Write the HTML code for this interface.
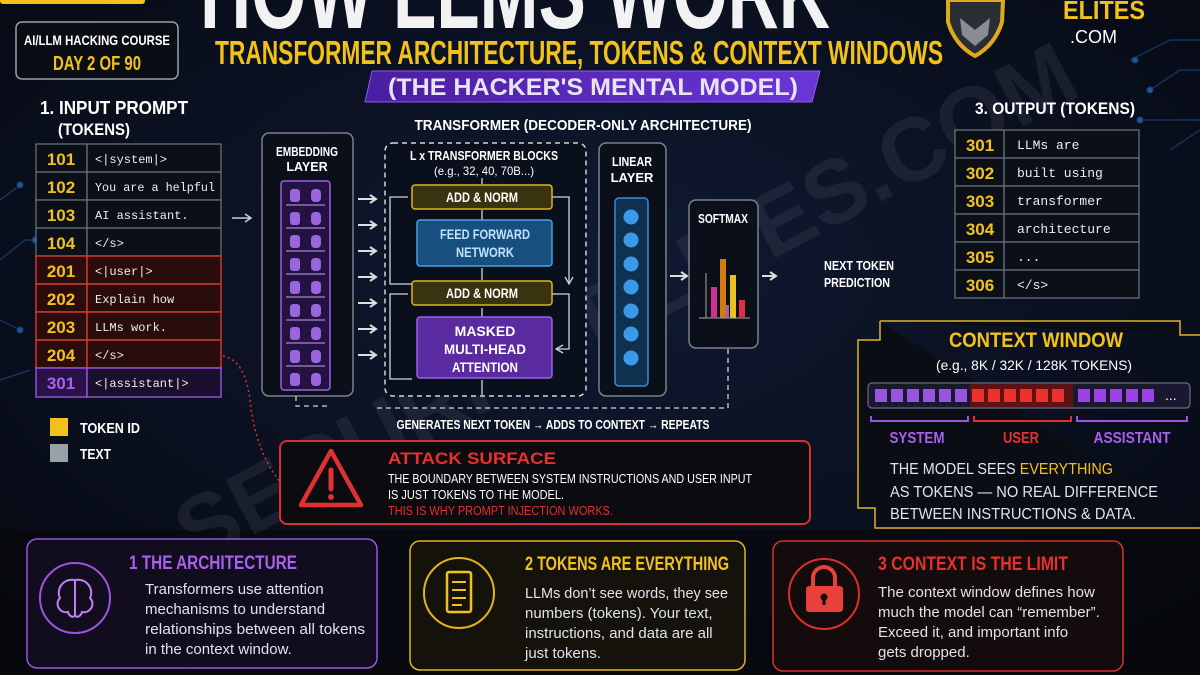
<!DOCTYPE html>
<html><head><meta charset="utf-8"><style>
html,body{margin:0;padding:0;background:#070b16;}
svg{display:block}
text{font-family:"Liberation Sans Narrow","Liberation Sans",sans-serif;}
.m{font-family:"Liberation Mono",monospace;}
</style></head><body>
<svg width="1200" height="675" viewBox="0 0 1200 675" xmlns="http://www.w3.org/2000/svg">
<defs>
<radialGradient id="bg" cx="0.5" cy="0.4" r="0.8"><stop offset="0" stop-color="#101a33"/><stop offset="1" stop-color="#05070e"/></radialGradient>
<linearGradient id="pb" x1="0" x2="1"><stop offset="0" stop-color="#4a1ea0"/><stop offset="1" stop-color="#6a36d8"/></linearGradient>
</defs>
<rect width="1200" height="675" fill="url(#bg)"/>
<rect y="530" width="1200" height="145" fill="#07080d" opacity="0.7"/>
<g stroke="#1c4d8a" stroke-width="1.2" fill="#2a7ad0" opacity="0.7">
<path d="M1130 60 L1170 40 L1200 40 M1150 90 L1180 70 L1200 70 M1140 120 L1200 120 M1170 150 L1200 130" fill="none"/>
<circle cx="1135" cy="60" r="3"/><circle cx="1150" cy="90" r="3"/><circle cx="1140" cy="120" r="3"/>
<path d="M0 200 L20 185 M0 260 L25 240 L35 240 M0 320 L20 330 M0 380 L30 370" fill="none"/>
<circle cx="20" cy="185" r="3"/><circle cx="35" cy="240" r="3"/><circle cx="20" cy="330" r="3"/>
</g>
<rect x="0" y="-10" width="145" height="14" rx="3" fill="#f2c21b"/>
<rect x="16" y="22" width="162" height="57" rx="6" fill="#0a0d14" stroke="#9aa0a8" stroke-width="1.5"/>
<text x="97" y="45" fill="#fff" font-size="14" font-weight="bold" text-anchor="middle" textLength="146" lengthAdjust="spacingAndGlyphs">AI/LLM HACKING COURSE</text>
<text x="97" y="70" fill="#f2c21b" font-size="20" font-weight="bold" text-anchor="middle" textLength="88" lengthAdjust="spacingAndGlyphs">DAY 2 OF 90</text>
<text x="515" y="28" fill="#f2f2f2" font-size="104" font-weight="bold" text-anchor="middle" textLength="630" lengthAdjust="spacingAndGlyphs">HOW LLMS WORK</text>
<text x="579" y="64" fill="#f2c21b" font-size="33" font-weight="bold" text-anchor="middle" textLength="728" lengthAdjust="spacingAndGlyphs">TRANSFORMER ARCHITECTURE, TOKENS &amp; CONTEXT WINDOWS</text>
<path d="M372 71 L820 71 L812 102 L365 102 Z" fill="url(#pb)" stroke="#8a5af0"/>
<text x="593" y="95" fill="#e8e4f5" font-size="24" font-weight="bold" text-anchor="middle" textLength="410" lengthAdjust="spacingAndGlyphs">(THE HACKER'S MENTAL MODEL)</text>
<path d="M948 0 L1003 0 L1002 22 Q995 45 975 56 Q955 45 948 22 Z" fill="#2a2d33" stroke="#e0a81c" stroke-width="4"/>
<path d="M960 18 L975 30 L990 18 L988 35 L975 46 L962 35 Z" fill="#888c93"/>
<text x="1063" y="19" fill="#f2c21b" font-size="26" font-weight="bold" textLength="82" lengthAdjust="spacingAndGlyphs">ELITES</text>
<text x="1070" y="43" fill="#fff" font-size="18">.COM</text>
<text x="640" y="330" fill="#8a8f99" opacity="0.12" font-size="90" font-weight="bold" text-anchor="middle" transform="rotate(-28 640 330)">SECURITYELITES.COM</text>
<text x="40" y="114" fill="#fff" font-size="18" font-weight="bold" textLength="148" lengthAdjust="spacingAndGlyphs">1. INPUT PROMPT</text>
<text x="58" y="135" fill="#fff" font-size="17" font-weight="bold" textLength="72" lengthAdjust="spacingAndGlyphs">(TOKENS)</text>
<g stroke="#6d7480" stroke-width="1.2" fill="#0b0f18">
<rect x="36" y="144" width="51" height="28"/><rect x="87" y="144" width="134" height="28"/>
<rect x="36" y="172" width="51" height="28"/><rect x="87" y="172" width="134" height="28"/>
<rect x="36" y="200" width="51" height="28"/><rect x="87" y="200" width="134" height="28"/>
<rect x="36" y="228" width="51" height="28"/><rect x="87" y="228" width="134" height="28"/>
</g>
<g stroke="#d83a33" stroke-width="1.4" fill="#2a0c0c">
<rect x="36" y="256" width="51" height="28"/><rect x="87" y="256" width="134" height="28"/>
<rect x="36" y="284" width="51" height="28"/><rect x="87" y="284" width="134" height="28"/>
<rect x="36" y="312" width="51" height="28"/><rect x="87" y="312" width="134" height="28"/>
<rect x="36" y="340" width="51" height="28"/><rect x="87" y="340" width="134" height="28"/>
</g>
<rect x="36" y="368" width="51" height="29" fill="#2a1248" stroke="#9a55e0" stroke-width="1.4"/><rect x="87" y="368" width="134" height="29" fill="#1a0f2c" stroke="#9a55e0" stroke-width="1.4"/>
<g fill="#f2c21b" font-size="17" font-weight="bold" text-anchor="middle">
<text x="61" y="165">101</text><text x="61" y="193">102</text><text x="61" y="221">103</text><text x="61" y="249">104</text>
<text x="61" y="277">201</text><text x="61" y="305">202</text><text x="61" y="333">203</text><text x="61" y="361">204</text>
<text x="61" y="389" fill="#a860f0">301</text></g>
<g fill="#eee" font-size="12">
<text class="m" x="95" y="163">&lt;|system|&gt;</text><text class="m" x="95" y="191" textLength="120" lengthAdjust="spacingAndGlyphs">You are a helpful</text>
<text class="m" x="95" y="219">AI assistant.</text><text class="m" x="95" y="247">&lt;/s&gt;</text>
<text class="m" x="95" y="275">&lt;|user|&gt;</text><text class="m" x="95" y="303">Explain how</text>
<text class="m" x="95" y="331">LLMs work.</text><text class="m" x="95" y="359">&lt;/s&gt;</text>
<text class="m" x="95" y="387">&lt;|assistant|&gt;</text></g>
<path d="M232 218 L250 218 M245 214 L251 218 L245 222" stroke="#ccc" stroke-width="1.5" fill="none"/>
<rect x="50" y="418" width="18" height="18" fill="#f2c21b"/><text x="80" y="433" fill="#fff" font-size="15" font-weight="bold" textLength="60" lengthAdjust="spacingAndGlyphs">TOKEN ID</text>
<rect x="50" y="444" width="18" height="18" fill="#9aa0a8"/><text x="80" y="459" fill="#fff" font-size="15" font-weight="bold" textLength="31" lengthAdjust="spacingAndGlyphs">TEXT</text>
<path d="M223 356 Q245 360 250 400 Q255 450 280 482" stroke="#e03030" stroke-width="1.5" stroke-dasharray="2 3" fill="none"/>
<text x="583" y="130" fill="#fff" font-size="15" font-weight="bold" text-anchor="middle" textLength="337" lengthAdjust="spacingAndGlyphs">TRANSFORMER (DECODER-ONLY ARCHITECTURE)</text>
<rect x="262" y="133" width="91" height="263" rx="7" fill="#0b0f1a" stroke="#7a808a" stroke-width="1.5"/>
<text x="307" y="156" fill="#fff" font-size="12.5" font-weight="bold" text-anchor="middle" textLength="62" lengthAdjust="spacingAndGlyphs">EMBEDDING</text>
<text x="307" y="171" fill="#fff" font-size="12.5" font-weight="bold" text-anchor="middle">LAYER</text>
<rect x="281" y="181" width="49" height="209" rx="3" fill="#241342" stroke="#a060e0" stroke-width="1.5"/>
<g fill="#9a66dd">
<rect x="290" y="189" width="10" height="13" rx="3"/><rect x="311" y="189" width="10" height="13" rx="4"/>
<rect x="290" y="212" width="10" height="13" rx="3"/><rect x="311" y="212" width="10" height="13" rx="4"/>
<rect x="290" y="235" width="10" height="13" rx="3"/><rect x="311" y="235" width="10" height="13" rx="4"/>
<rect x="290" y="258" width="10" height="13" rx="3"/><rect x="311" y="258" width="10" height="13" rx="4"/>
<rect x="290" y="281" width="10" height="13" rx="3"/><rect x="311" y="281" width="10" height="13" rx="4"/>
<rect x="290" y="304" width="10" height="13" rx="3"/><rect x="311" y="304" width="10" height="13" rx="4"/>
<rect x="290" y="327" width="10" height="13" rx="3"/><rect x="311" y="327" width="10" height="13" rx="4"/>
<rect x="290" y="350" width="10" height="13" rx="3"/><rect x="311" y="350" width="10" height="13" rx="4"/>
<rect x="290" y="373" width="10" height="13" rx="3"/><rect x="311" y="373" width="10" height="13" rx="4"/>
</g>
<g stroke="#c9a0f0" stroke-width="1"><path d="M286 205 H325 M286 228 H325 M286 251 H325 M286 274 H325 M286 297 H325 M286 320 H325 M286 343 H325 M286 366 H325"/></g>
<g stroke="#ddd" stroke-width="2" fill="none">
<path d="M358 199 H375 M370 195 L376 199 L370 203"/><path d="M358 225 H375 M370 221 L376 225 L370 229"/>
<path d="M358 251 H375 M370 247 L376 251 L370 255"/><path d="M358 277 H375 M370 273 L376 277 L370 281"/>
<path d="M358 303 H375 M370 299 L376 303 L370 307"/><path d="M358 329 H375 M370 325 L376 329 L370 333"/>
<path d="M358 355 H375 M370 351 L376 355 L370 359"/>
</g>
<rect x="385" y="143" width="201" height="253" rx="8" fill="#0a0f1c" stroke="#cfd3da" stroke-width="1.5" stroke-dasharray="5 4"/>
<text x="484" y="160" fill="#fff" font-size="13" font-weight="bold" text-anchor="middle" textLength="148" lengthAdjust="spacingAndGlyphs">L x TRANSFORMER BLOCKS</text>
<text x="484" y="175" fill="#fff" font-size="12" text-anchor="middle" textLength="100" lengthAdjust="spacingAndGlyphs">(e.g., 32, 40, 70B...)</text>
<g stroke="#cfd3da" stroke-width="1.3" fill="none">
<path d="M412 284 H390 V197 H408"/><path d="M552 197 H569 V283 M565 277 L569 284 L573 277"/>
<path d="M412 379 H390 V294 H408"/><path d="M552 294 H569 V349 H557 M563 345 L556 349 L563 353"/>
<path d="M482 395 V380 M482 317 V308 M482 280 V268 M482 220 V210 M482 184 V178"/>
</g>
<rect x="412" y="185" width="140" height="24" rx="3" fill="#3a3310" stroke="#e0b420" stroke-width="1.5"/>
<text x="482" y="202" fill="#fff" font-size="13.5" font-weight="bold" text-anchor="middle" textLength="72" lengthAdjust="spacingAndGlyphs">ADD &amp; NORM</text>
<rect x="417" y="220" width="135" height="46" rx="3" fill="#17507f" stroke="#4aa0e0" stroke-width="1.5"/>
<text x="485" y="239" fill="#bfe3ff" font-size="14" font-weight="bold" text-anchor="middle" textLength="90" lengthAdjust="spacingAndGlyphs">FEED FORWARD</text>
<text x="485" y="257" fill="#bfe3ff" font-size="14" font-weight="bold" text-anchor="middle" textLength="58" lengthAdjust="spacingAndGlyphs">NETWORK</text>
<rect x="412" y="281" width="140" height="24" rx="3" fill="#3a3310" stroke="#e0b420" stroke-width="1.5"/>
<text x="482" y="298" fill="#fff" font-size="13.5" font-weight="bold" text-anchor="middle" textLength="72" lengthAdjust="spacingAndGlyphs">ADD &amp; NORM</text>
<rect x="417" y="317" width="135" height="61" rx="3" fill="#5a2aa0" stroke="#9a60e8" stroke-width="1.5"/>
<text x="485" y="336" fill="#fff" font-size="14" font-weight="bold" text-anchor="middle">MASKED</text>
<text x="485" y="354" fill="#fff" font-size="14" font-weight="bold" text-anchor="middle" textLength="82" lengthAdjust="spacingAndGlyphs">MULTI-HEAD</text>
<text x="485" y="372" fill="#fff" font-size="14" font-weight="bold" text-anchor="middle" textLength="66" lengthAdjust="spacingAndGlyphs">ATTENTION</text>
<rect x="599" y="143" width="67" height="253" rx="7" fill="#0b0f1a" stroke="#7a808a" stroke-width="1.5"/>
<text x="632" y="166" fill="#fff" font-size="13" font-weight="bold" text-anchor="middle" textLength="40" lengthAdjust="spacingAndGlyphs">LINEAR</text>
<text x="632" y="182" fill="#fff" font-size="13" font-weight="bold" text-anchor="middle">LAYER</text>
<rect x="615" y="198" width="33" height="188" rx="4" fill="#10304f" stroke="#3a8ad0" stroke-width="1.5"/>
<g fill="#3a9ae8"><circle cx="631" cy="217" r="7.5"/><circle cx="631" cy="240" r="7.5"/><circle cx="631" cy="264" r="7.5"/><circle cx="631" cy="287" r="7.5"/><circle cx="631" cy="311" r="7.5"/><circle cx="631" cy="334" r="7.5"/><circle cx="631" cy="358" r="7.5"/></g>
<path d="M670 276 H686 M681 272 L687 276 L681 280" stroke="#ddd" stroke-width="2" fill="none"/>
<rect x="689" y="200" width="69" height="148" rx="7" fill="#0b0f1a" stroke="#7a808a" stroke-width="1.5"/>
<text x="723" y="223" fill="#fff" font-size="13" font-weight="bold" text-anchor="middle" textLength="50" lengthAdjust="spacingAndGlyphs">SOFTMAX</text>
<path d="M706 273 V318 M699 318 H750" stroke="#aaa" stroke-width="1"/>
<rect x="711" y="287" width="6" height="31" fill="#d03090"/><rect x="720" y="259" width="6" height="59" fill="#d07a10"/>
<rect x="726" y="305" width="3" height="13" fill="#9a60c0"/><rect x="730" y="275" width="6" height="43" fill="#e8c020"/><rect x="739" y="300" width="6" height="18" fill="#e03040"/>
<path d="M762 276 H775 M770 272 L776 276 L770 280" stroke="#ddd" stroke-width="2" fill="none"/>
<text x="824" y="270" fill="#fff" font-size="12.5" font-weight="bold" textLength="70" lengthAdjust="spacingAndGlyphs">NEXT TOKEN</text>
<text x="824" y="287" fill="#fff" font-size="12.5" font-weight="bold" textLength="66" lengthAdjust="spacingAndGlyphs">PREDICTION</text>
<path d="M728 349 V408 H375 M296 396 V406 H330" stroke="#cfd3da" stroke-width="1.3" stroke-dasharray="5 4" fill="none"/>
<text x="553" y="429" fill="#fff" font-size="12.5" font-weight="bold" text-anchor="middle" textLength="313" lengthAdjust="spacingAndGlyphs">GENERATES NEXT TOKEN → ADDS TO CONTEXT → REPEATS</text>
<rect x="280" y="441" width="530" height="83" rx="7" fill="#0b0b10" stroke="#d8302e" stroke-width="2"/>
<path d="M331 451 L361 505 H301 Z" fill="none" stroke="#e03030" stroke-width="4.5" stroke-linejoin="round"/>
<path d="M331 470 V489" stroke="#e03030" stroke-width="5" stroke-linecap="round"/><circle cx="331" cy="497" r="3" fill="#e03030"/>
<text x="388" y="464" fill="#e8302e" font-size="17" font-weight="bold" font-family="Liberation Sans" textLength="168" lengthAdjust="spacingAndGlyphs">ATTACK SURFACE</text>
<text x="388" y="483" fill="#fff" font-size="12.5" textLength="364" lengthAdjust="spacingAndGlyphs">THE BOUNDARY BETWEEN SYSTEM INSTRUCTIONS AND USER INPUT</text>
<text x="388" y="499" fill="#fff" font-size="12.5" textLength="176" lengthAdjust="spacingAndGlyphs">IS JUST TOKENS TO THE MODEL.</text>
<text x="388" y="515" fill="#e03030" font-size="12.5" textLength="225" lengthAdjust="spacingAndGlyphs">THIS IS WHY PROMPT INJECTION WORKS.</text>
<text x="975" y="114" fill="#fff" font-size="17" font-weight="bold" textLength="160" lengthAdjust="spacingAndGlyphs">3. OUTPUT (TOKENS)</text>
<g stroke="#6d7480" stroke-width="1.2" fill="#0b0f18">
<rect x="955" y="130" width="49" height="28"/><rect x="1004" y="130" width="135" height="28"/>
<rect x="955" y="158" width="49" height="28"/><rect x="1004" y="158" width="135" height="28"/>
<rect x="955" y="186" width="49" height="28"/><rect x="1004" y="186" width="135" height="28"/>
<rect x="955" y="214" width="49" height="28"/><rect x="1004" y="214" width="135" height="28"/>
<rect x="955" y="242" width="49" height="28"/><rect x="1004" y="242" width="135" height="28"/>
<rect x="955" y="270" width="49" height="28"/><rect x="1004" y="270" width="135" height="28"/>
</g>
<g fill="#f2c21b" font-size="17" font-weight="bold" text-anchor="middle">
<text x="980" y="151">301</text><text x="980" y="179">302</text><text x="980" y="207">303</text><text x="980" y="235">304</text><text x="980" y="263">305</text><text x="980" y="291">306</text></g>
<g fill="#eee" font-size="13">
<text class="m" x="1017" y="149">LLMs are</text><text class="m" x="1017" y="177">built using</text><text class="m" x="1017" y="205">transformer</text>
<text class="m" x="1017" y="233">architecture</text><text class="m" x="1017" y="261">...</text><text class="m" x="1017" y="289">&lt;/s&gt;</text></g>
<path d="M880 321 H1180 V335 H1200 M880 321 V340 H858 V508 H875 V528 H1200" fill="#0a0d14" stroke="#e0b420" stroke-width="1.5"/>
<text x="1036" y="347" fill="#f2c21b" font-size="21" font-weight="bold" text-anchor="middle" textLength="174" lengthAdjust="spacingAndGlyphs">CONTEXT WINDOW</text>
<text x="1034" y="370" fill="#fff" font-size="13.5" text-anchor="middle" textLength="196" lengthAdjust="spacingAndGlyphs">(e.g., 8K / 32K / 128K TOKENS)</text>
<rect x="868" y="383" width="322" height="25" rx="4" fill="#1a1730" stroke="#6a6a80" stroke-width="1.2"/>
<g fill="#9a55e0"><rect x="875" y="389" width="12" height="13"/><rect x="891" y="389" width="12" height="13"/><rect x="907" y="389" width="12" height="13"/><rect x="923" y="389" width="12" height="13"/><rect x="939" y="389" width="12" height="13"/><rect x="955" y="389" width="12" height="13"/></g>
<rect x="970" y="384" width="103" height="23" fill="#5a1414"/>
<g fill="#f03030"><rect x="972" y="389" width="12" height="13"/><rect x="988" y="389" width="12" height="13"/><rect x="1004" y="389" width="12" height="13"/><rect x="1020" y="389" width="12" height="13"/><rect x="1036" y="389" width="12" height="13"/><rect x="1052" y="389" width="12" height="13"/></g>
<g fill="#a040e8"><rect x="1078" y="389" width="12" height="13"/><rect x="1094" y="389" width="12" height="13"/><rect x="1110" y="389" width="12" height="13"/><rect x="1126" y="389" width="12" height="13"/><rect x="1142" y="389" width="12" height="13"/></g>
<text x="1165" y="400" fill="#fff" font-size="14">...</text>
<path d="M871 416 V421 H968 V416" stroke="#9a55e0" stroke-width="2" fill="none"/>
<path d="M974 416 V421 H1071 V416" stroke="#e03030" stroke-width="2" fill="none"/>
<path d="M1077 416 V421 H1187 V416" stroke="#9a55e0" stroke-width="2" fill="none"/>
<text x="917" y="443" fill="#a860f0" font-size="16" font-weight="bold" text-anchor="middle" textLength="55" lengthAdjust="spacingAndGlyphs">SYSTEM</text>
<text x="1021" y="443" fill="#e8302e" font-size="16" font-weight="bold" text-anchor="middle" textLength="36" lengthAdjust="spacingAndGlyphs">USER</text>
<text x="1132" y="443" fill="#a860f0" font-size="16" font-weight="bold" text-anchor="middle" textLength="77" lengthAdjust="spacingAndGlyphs">ASSISTANT</text>
<g font-size="16" fill="#dfe3ea"><text x="890" y="474" textLength="223" lengthAdjust="spacingAndGlyphs">THE MODEL SEES <tspan fill="#f2c21b">EVERYTHING</tspan></text>
<text x="890" y="497" textLength="268" lengthAdjust="spacingAndGlyphs">AS TOKENS — NO REAL DIFFERENCE</text><text x="890" y="519" textLength="246" lengthAdjust="spacingAndGlyphs">BETWEEN INSTRUCTIONS &amp; DATA.</text></g>
<rect x="27" y="539" width="350" height="129" rx="10" fill="#120d1e" stroke="#9a55e0" stroke-width="1.5"/>
<circle cx="75" cy="598" r="35" fill="none" stroke="#9a55e0" stroke-width="2"/>
<path d="M75 580 C62 578 56 590 60 598 C54 604 60 614 68 612 C70 618 75 618 75 614 Z M75 580 C88 578 94 590 90 598 C96 604 90 614 82 612 C80 618 75 618 75 614 Z M75 582 V614" stroke="#c080f0" stroke-width="2" fill="none"/>
<text x="129" y="569" fill="#a860f0" font-size="19" font-weight="bold" textLength="168" lengthAdjust="spacingAndGlyphs">1 THE ARCHITECTURE</text>
<g fill="#dfe3ea" font-size="15"><text x="145" y="594">Transformers use attention</text><text x="145" y="614">mechanisms to understand</text><text x="145" y="634" textLength="220" lengthAdjust="spacingAndGlyphs">relationships between all tokens</text><text x="145" y="654">in the context window.</text></g>
<rect x="410" y="541" width="335" height="129" rx="10" fill="#14120a" stroke="#e0b420" stroke-width="1.5"/>
<circle cx="459" cy="593" r="35" fill="none" stroke="#e0b420" stroke-width="2"/>
<rect x="447" y="572" width="24" height="40" rx="2" fill="none" stroke="#f2c21b" stroke-width="2.5"/>
<path d="M452 582 H466 M452 590 H466 M452 598 H466 M452 605 H462" stroke="#f2c21b" stroke-width="2"/>
<text x="525" y="570" fill="#f2c21b" font-size="19" font-weight="bold" textLength="204" lengthAdjust="spacingAndGlyphs">2 TOKENS ARE EVERYTHING</text>
<g fill="#dfe3ea" font-size="15"><text x="525" y="598" textLength="203" lengthAdjust="spacingAndGlyphs">LLMs don’t see words, they see</text><text x="525" y="618">numbers (tokens). Your text,</text><text x="525" y="638">instructions, and data are all</text><text x="525" y="658">just tokens.</text></g>
<rect x="773" y="541" width="350" height="130" rx="10" fill="#140b0c" stroke="#d8302e" stroke-width="1.5"/>
<circle cx="824" cy="594" r="35" fill="none" stroke="#d8302e" stroke-width="2"/>
<path d="M813 586 V578 A11 11 0 0 1 835 578 V586" stroke="#e8403a" stroke-width="4" fill="none"/>
<rect x="806" y="586" width="37" height="26" rx="3" fill="#e8403a"/>
<circle cx="824" cy="597" r="3.5" fill="#140b0c"/><rect x="822.5" y="598" width="3" height="7" fill="#140b0c"/>
<text x="878" y="570" fill="#e8302e" font-size="19" font-weight="bold" textLength="190" lengthAdjust="spacingAndGlyphs">3 CONTEXT IS THE LIMIT</text>
<g fill="#dfe3ea" font-size="15"><text x="878" y="597">The context window defines how</text><text x="878" y="617">much the model can “remember”.</text><text x="878" y="637">Exceed it, and important info</text><text x="878" y="657">gets dropped.</text></g>
</svg>
</body></html>
